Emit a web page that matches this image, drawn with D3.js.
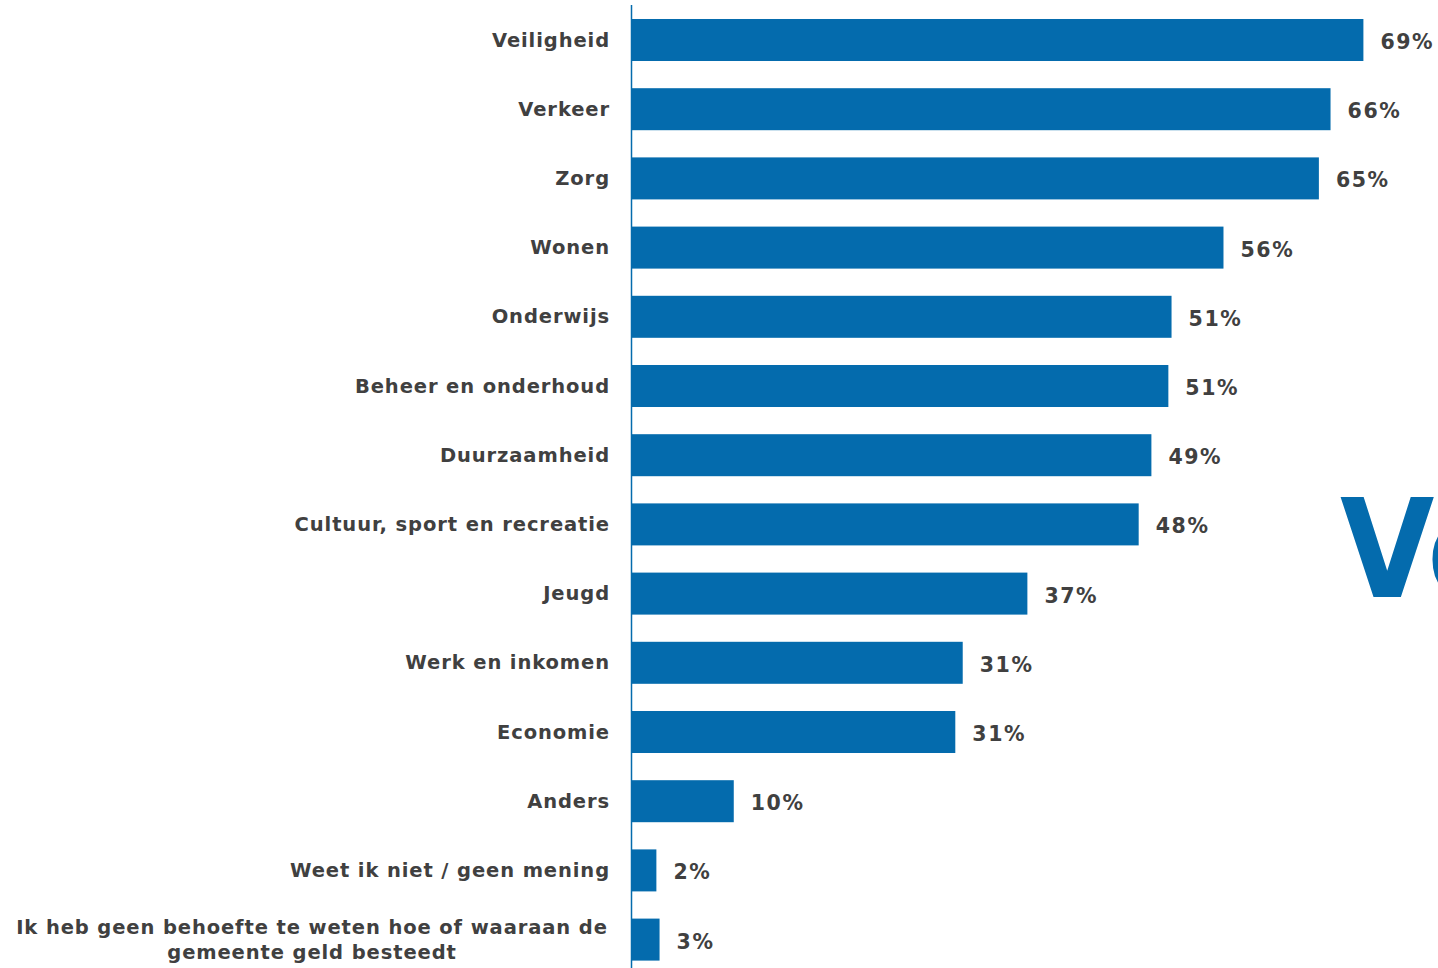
<!DOCTYPE html>
<html><head><meta charset="utf-8">
<script src="https://cdn.jsdelivr.net/npm/d3@7"></script>
<style>html,body{margin:0;padding:0;background:#fff;overflow:hidden}</style>
</head><body>
<svg id="c" width="1438" height="968"></svg>
<script>
const categories = ["Veiligheid","Verkeer","Zorg","Wonen","Onderwijs","Beheer en onderhoud","Duurzaamheid","Cultuur, sport en recreatie","Jeugd","Werk en inkomen","Economie","Anders","Weet ik niet / geen mening","Ik heb geen behoefte te weten hoe of waaraan de gemeente geld besteedt"];
const values = [69.0,65.9,64.8,55.8,50.9,50.6,49.0,47.8,37.3,31.2,30.5,9.6,2.3,2.6];
const valueLabels = ["69%","66%","65%","56%","51%","51%","49%","48%","37%","31%","31%","10%","2%","3%"];
const wrapped = {"Ik heb geen behoefte te weten hoe of waaraan de gemeente geld besteedt":["Ik heb geen behoefte te weten hoe of waaraan de","gemeente geld besteedt"]};

const svg = d3.select("#c");
const font = "'DejaVu Sans', Verdana, sans-serif";
const blue = "#046bad", grey = "#404040";

const x = d3.scaleLinear().domain([0,100]).range([632, 1692]);
const y = d3.scaleBand().domain(categories).range([5.4, 974.2]).paddingInner(0.393).paddingOuter(0.1965);

// big partial title text on the right (cut off by the page edge, as in the reference)
const big = svg.append("text").attr("transform","translate(1340,597) scale(0.89,1)")
  .attr("font-family",font).attr("font-weight","bold").attr("font-size",137)
  .attr("fill",blue);
big.append("tspan").text("V");
big.append("tspan").attr("dx",-8).text("e");

svg.selectAll("rect.bar").data(categories).join("rect").attr("class","bar")
  .attr("x",x(0)).attr("y",d=>y(d)).attr("height",y.bandwidth())
  .attr("width",(d,i)=>x(values[i])-x(0)).attr("fill",blue);

// axis line
svg.append("line").attr("x1",631.5).attr("x2",631.5).attr("y1",5).attr("y2",968)
  .attr("stroke",blue).attr("stroke-width",1.5);

// category labels
const lab = svg.selectAll("text.cat").data(categories).join("text").attr("class","cat")
  .attr("font-family",font).attr("font-weight","bold").attr("font-size",19.5).attr("fill",grey)
  .attr("letter-spacing","0.9px")
  .attr("dominant-baseline","central");
lab.each(function(d){
  const t = d3.select(this);
  const cy = y(d)+y.bandwidth()/2;
  if(wrapped[d]){
    const lines = wrapped[d];
    t.attr("text-anchor","middle");
    lines.forEach((l,k)=>t.append("tspan").attr("x",312).attr("y",cy-12.5+k*25).text(l));
  } else {
    t.attr("text-anchor","end").attr("x",610).attr("y",cy).text(d);
  }
});

// value labels
svg.selectAll("text.val").data(categories).join("text").attr("class","val")
  .attr("x",(d,i)=>x(values[i])+17).attr("y",d=>y(d)+y.bandwidth()/2+2)
  .attr("dominant-baseline","central")
  .attr("font-family",font).attr("font-weight","bold").attr("font-size",20.5).attr("fill",grey)
  .attr("letter-spacing","1.6px")
  .text((d,i)=>valueLabels[i]);
</script>
</body></html>
